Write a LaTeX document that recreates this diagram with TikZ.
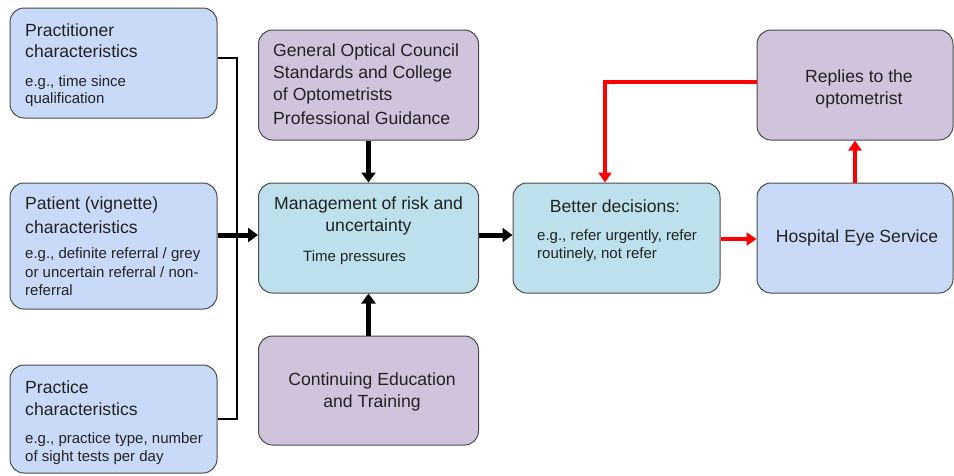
\documentclass[tikz,border=0pt]{standalone}
\usepackage{fontspec}
\setmainfont{Liberation Sans}
\usetikzlibrary{arrows.meta}
\definecolor{bluebox}{HTML}{C9DAF8}
\definecolor{cyanbox}{HTML}{BCE1EC}
\definecolor{purplebox}{HTML}{D0C3DC}
\definecolor{edgegray}{HTML}{4A4A4A}
\definecolor{txt}{HTML}{222222}
\definecolor{redline}{HTML}{FF0000}
\tikzset{
  box/.style={draw=edgegray, line width=1pt, rounded corners=14pt, inner sep=0pt},
  bbox/.style={box, fill=bluebox},
  cbox/.style={box, fill=cyanbox},
  pbox/.style={box, fill=purplebox},
  ttl/.style={text=txt, font=\fontsize{17.6}{22}\selectfont, inner sep=0pt},
  sub/.style={text=txt, font=\fontsize{15}{18}\selectfont, inner sep=0pt},
  blackarrow/.style={line width=5pt, -{Triangle[length=10pt,width=14pt]}},
  redarrow/.style={draw=redline, line width=3.5pt, -{Triangle[length=10pt,width=13pt]}},
  bracket/.style={line width=2pt}
}
\begin{document}
\begin{tikzpicture}[x=1pt,y=-1pt]
\useasboundingbox (0,0) rectangle (954,475);
% left boxes
\node[bbox, minimum width=207pt, minimum height=110pt] (pra) at (113.5,63) {};
\node[ttl, anchor=west] (t1) at (25,30) {Practitioner};
\node[ttl, anchor=west] (t2) at (25,51) {characteristics};
\node[sub, anchor=west] (t3) at (25,83) {e.g., time since};
\node[sub, anchor=west] (t4) at (25,100) {qualification};

\node[bbox, minimum width=207pt, minimum height=126pt] (pat) at (113.5,246) {};
\node[ttl, anchor=west] (p1) at (25,205) {Patient (vignette)};
\node[ttl, anchor=west] (p2) at (25,227) {characteristics};
\node[sub, anchor=west] (p3) at (25,255) {e.g., definite referral / grey};
\node[sub, anchor=west] (p4) at (25,272) {or uncertain referral / non-};
\node[sub, anchor=west] (p5) at (25,290) {referral};

\node[bbox, minimum width=207pt, minimum height=108pt] (prc) at (113.5,419) {};
\node[ttl, anchor=west] (q1) at (25,387) {Practice};
\node[ttl, anchor=west] (q2) at (25,409) {characteristics};
\node[sub, anchor=west] (q3) at (25,440) {e.g., practice type, number};
\node[sub, anchor=west] (q4) at (25,458) {of sight tests per day};

% middle column
\node[pbox, minimum width=220pt, minimum height=110pt] (goc) at (368.5,85) {};
\node[ttl, anchor=west] (g1) at (273,52) {General Optical Council};
\node[ttl, anchor=west] (g2) at (273,74) {Standards and College};
\node[ttl, anchor=west] (g3) at (273,96) {of Optometrists};
\node[ttl, anchor=west] (g4) at (273,118) {Professional Guidance};

\node[cbox, minimum width=220pt, minimum height=110pt] (mgt) at (368.5,238) {};
\node[ttl] (m1) at (368.5,205) {Management of risk and};
\node[ttl] (m2) at (368.5,227) {uncertainty};
\node[sub, anchor=west] (m3) at (303,258) {Time pressures};

\node[pbox, minimum width=220pt, minimum height=109pt] (cet) at (368.5,390.5) {};
\node[ttl] (c1) at (372,381) {Continuing Education};
\node[ttl] (c2) at (372,403) {and Training};

% decisions
\node[cbox, minimum width=207pt, minimum height=110pt] (bet) at (616.5,238) {};
\node[ttl] (b1) at (615,206) {Better decisions:};
\node[sub, anchor=west] (b2) at (537,237) {e.g., refer urgently, refer};
\node[sub, anchor=west] (b3) at (537,255) {routinely, not refer};

% right column
\node[pbox, minimum width=196pt, minimum height=110pt] (rep) at (855,85) {};
\node[ttl] (r1) at (859,78) {Replies to the};
\node[ttl] (r2) at (859,100) {optometrist};

\node[bbox, minimum width=196pt, minimum height=110pt] (hos) at (855,238) {};
\node[ttl] (h1) at (857,238) {Hospital Eye Service};

% bracket
\coordinate (bt) at (237,58);
\coordinate (bb) at (237,419);
\draw[bracket] (pra.east|-bt) -- (bt) -- (bb) -- (prc.east|-bb);
\draw[blackarrow] (pat.east|-0,235) -- (mgt.west|-0,235);
\draw[blackarrow] (goc.south) -- (mgt.north);
\draw[blackarrow] (cet.north) -- (mgt.south);
\draw[blackarrow] (mgt.east|-0,235) -- (bet.west|-0,235);
% red arrows
\draw[redarrow] (bet.east|-0,239) -- (hos.west|-0,239);
\draw[redarrow] (hos.north) -- (rep.south);
\coordinate (corner) at (605,82);
\draw[redarrow] (rep.west|-corner) -- (corner) -- (corner|-bet.north);
\end{tikzpicture}
\end{document}
